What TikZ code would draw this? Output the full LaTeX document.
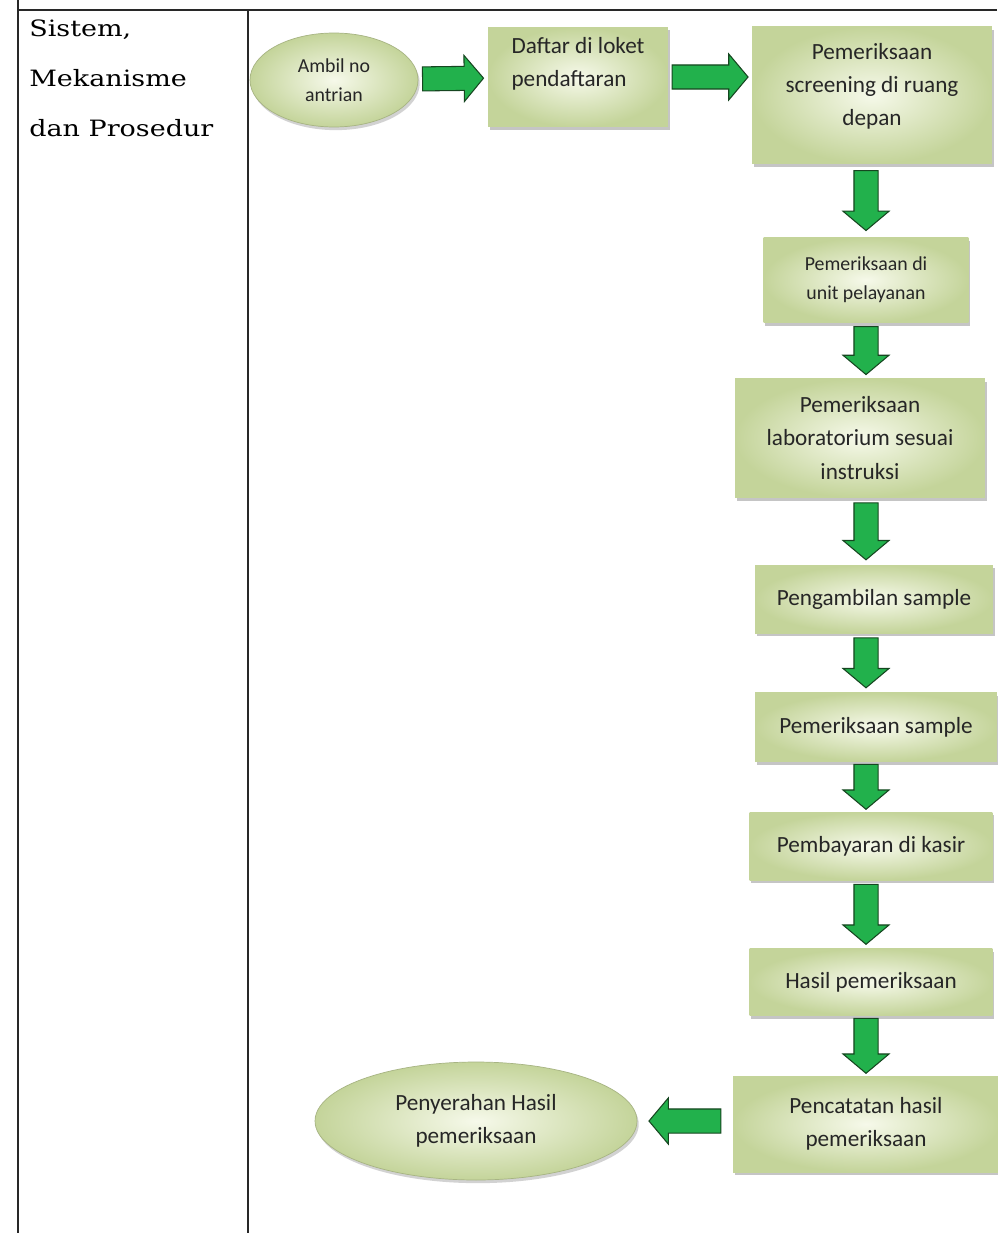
\documentclass[tikz,border=0pt]{standalone}
\usepackage{fontspec}
\setmainfont{Carlito}
\newfontfamily\tabelfont[FakeStretch=1.2]{DejaVu Serif}
\usetikzlibrary{positioning,shapes,shapes.arrows,shadows}

\definecolor{panahhijau}{RGB}{34,177,76}
\definecolor{panahtepi}{RGB}{22,70,32}
\definecolor{kotakdalam}{RGB}{246,249,234}
\definecolor{kotakluar}{RGB}{196,212,154}
\definecolor{garis}{RGB}{40,40,40}

\begin{document}
\begin{tikzpicture}[x=0.02cm, y=-0.02cm,
    activity/.style={rectangle, shade, inner color=kotakdalam, outer color=kotakluar, drop shadow={shadow xshift=1pt, shadow yshift=-1.8pt, opacity=0.45}, align=center, text=black!85, font=\fontsize{13.2}{18.8}\selectfont},
    small/.style={font=\fontsize{11.3}{16.5}\selectfont},
    terminal/.style={ellipse, shade, inner color=kotakdalam, outer color=kotakluar, draw=kotakluar!85!black, line width=0.4pt, drop shadow={shadow xshift=1pt, shadow yshift=-1.8pt, opacity=0.35}, align=center, text=black!85, font=\fontsize{13.2}{18.8}\selectfont},
    arrow/.style={single arrow, draw=panahtepi, fill=panahhijau, line width=0.6pt, inner xsep=0pt, inner ysep=0.23cm, minimum width=0.9cm, single arrow head extend=0.22cm, single arrow tip angle=100, minimum height=#1, sloped, allow upside down, xshift=-0.1cm},
    tabline/.style={draw=garis, line width=1.1pt}
]
\fill[white] (0,0) rectangle (997,1233);
\useasboundingbox (0,0) rectangle (997,1233);

% Table
\draw[tabline] (18,0) -- (18,1233);
\draw[tabline] (18,10) -- (997,10);
\draw[tabline] (248,10) -- (248,1233);
\node[anchor=north west, align=left, inner sep=0pt, font=\tabelfont\fontsize{12.8}{28.5}\selectfont] (kolom) at (29,19) {Sistem,\\Mekanisme\\dan Prosedur};

% Start
\node[terminal, small, minimum width=3.36cm, minimum height=1.88cm] (ambil) at (334,80) {Ambil no\\antrian};

% Activities
\node[activity, align=left, minimum width=3.6cm, minimum height=2cm] (daftar) at (578,77) {Daftar di loket\\pendaftaran\\[-2pt]};
\node[activity, minimum width=4.8cm, minimum height=2.74cm] (screen) at (872,95) {Pemeriksaan\\screening di ruang\\depan\\[-7pt]};
\node[activity, small, minimum width=4.1cm, minimum height=1.7cm] (unit) at (866,280) {Pemeriksaan di\\unit pelayanan};
\node[activity, minimum width=5cm, minimum height=2.38cm] (lab) at (860,438) {Pemeriksaan\\laboratorium sesuai\\instruksi};
\node[activity, minimum width=4.76cm, minimum height=1.36cm] (sampel) at (874,599) {Pengambilan sample};
\node[activity, minimum width=4.84cm, minimum height=1.38cm] (periksa) at (876,727) {Pemeriksaan sample};
\node[activity, minimum width=4.86cm, minimum height=1.36cm] (bayar) at (871,846) {Pembayaran di kasir};
\node[activity, minimum width=4.86cm, minimum height=1.34cm] (hasil) at (871,982) {Hasil pemeriksaan};
\node[activity, minimum width=5.32cm, minimum height=1.92cm] (catat) at (866,1124) {Pencatatan hasil\\pemeriksaan};

% End
\node[terminal, minimum width=6.44cm, minimum height=2.36cm] (serah) at (476,1121) {Penyerahan Hasil\\pemeriksaan};

% Arrows
\path (ambil) -- node[arrow=1.22cm] {} (daftar);
\path (daftar) -- node[arrow=1.52cm] {} (daftar -| screen.west);
\path (screen.south -| unit) -- node[arrow=1.2cm] {} (unit);
\path (unit) -- node[arrow=0.96cm] {} (unit |- lab.north);
\path (lab.south -| unit) -- node[arrow=1.14cm] {} (unit |- sampel.north);
\path (sampel.south -| unit) -- node[arrow=1cm] {} (unit |- periksa.north);
\path (periksa.south -| unit) -- node[arrow=0.9cm] {} (unit |- bayar.north);
\path (bayar.south -| unit) -- node[arrow=1.2cm] {} (unit |- hasil.north);
\path (hasil.south -| unit) -- node[arrow=1.1cm] {} (unit |- catat.north);
\path (catat.west |- serah) -- node[arrow=1.44cm] {} (serah);

\end{tikzpicture}
\end{document}
